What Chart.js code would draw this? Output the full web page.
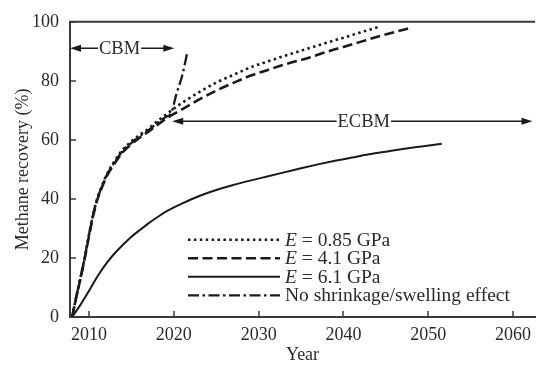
<!DOCTYPE html>
<html><head><meta charset="utf-8">
<script src="https://cdn.jsdelivr.net/npm/chart.js@4.4.1/dist/chart.umd.min.js"></script>
<style>html,body{margin:0;padding:0;background:#fff;}canvas{display:block;}</style>
</head><body>
<canvas id="c" width="538" height="366" style="width:538px;height:366px"></canvas>
<script>
// ---- data ----
const yearsE085 = [2008,2008.5,2009,2009.5,2010,2010.5,2011,2011.5,2012,2013,2014,2015,2016,2017,2018,2019,2020,2021,2023,2025,2027,2029,2031,2033,2036,2038,2040,2042,2044.2];
const recE085   = [0,7,13.5,20.3,28,35,40.5,44.3,47.8,52.8,56.8,59.5,61.8,63.8,66.2,68.4,70.6,72.6,76.2,79.4,82,84.5,86.5,88.4,91.1,92.9,94.6,96.4,98.3];

const yearsE41 = [2008,2008.5,2009,2009.5,2010,2010.5,2011,2011.5,2012,2013,2014,2015,2016,2017,2018,2019,2020,2021,2023,2025,2027,2029,2031,2033,2036,2038,2040,2042,2044,2046,2048];
const recE41   = [0,6.8,13.2,20,27.6,34.5,40,43.8,47.2,52,55.9,58.6,60.8,62.8,65,67,68.8,70.4,73.7,76.7,79.3,81.7,83.6,85.5,87.9,89.8,91.5,93.2,94.9,96.5,98];

const yearsE61 = [2008,2009,2010,2011,2012,2013,2014,2015,2016,2017,2018,2019,2020,2021,2022,2023,2025,2027,2029,2031,2033,2035,2037,2039,2041,2043,2045,2047,2049,2051.6];
const recE61   = [0,4.2,8.9,13.8,18,21.5,24.5,27.2,29.5,31.7,33.7,35.6,37.1,38.5,39.8,41,43,44.7,46.2,47.6,49,50.4,51.7,52.9,54,55.1,56,56.9,57.7,58.7];

const yearsNoSw = [2008,2008.5,2009,2009.5,2010,2010.5,2011,2011.5,2012,2013,2014,2015,2016,2017,2018,2019,2019.7,2020.3,2021,2021.6];
const recNoSw   = [0,7,13.5,20.3,28,35,40.3,44,47.5,52.4,56.4,59,61.3,63.3,65.6,67.7,69.2,75.5,82,89.8];

const seriesLabels = ['E = 0.85 GPa','E = 4.1 GPa','E = 6.1 GPa','No shrinkage/swelling effect'];
const xTickValues = [2010,2020,2030,2040,2050,2060];
const yTickValues = [0,20,40,60,80,100];

const phaseNames = ['CBM','ECBM'];
const phaseFrom  = [2007.75, 2019.8];
const phaseTo    = [2020.05, 2062.3];
const phaseLevel = [91, 66.3];
const phaseTextAt = [2013.6, 2042.4];

// ---- chart ----
const FONT = '"Liberation Serif","Times New Roman",serif';
const INK = '#1a1a1a';
const AXIS = '#3a3a3a';
const pts = (xs, ys) => xs.map((x,i)=>({x, y: ys[i]}));
const styles = [
  {dash:[2.5,3.4], w:2.6},
  {dash:[10,4.5], w:2.6},
  {dash:[], w:2},
  {dash:[11,3.5,2.5,3.5], w:2.3}
];
const seriesData = [pts(yearsE085,recE085), pts(yearsE41,recE41), pts(yearsE61,recE61), pts(yearsNoSw,recNoSw)];

const decor = {
  id:'decor',
  afterDraw(chart){
    const ctx = chart.ctx, a = chart.chartArea, xs = chart.scales.x, ys = chart.scales.y;
    ctx.save();
    // top frame line
    ctx.strokeStyle = AXIS; ctx.lineWidth = 2;
    ctx.beginPath(); ctx.moveTo(a.left-1, a.top); ctx.lineTo(a.right, a.top); ctx.stroke();
    // inward ticks
    ctx.lineWidth = 1.5;
    xTickValues.forEach(v=>{ const px = Math.round(xs.getPixelForValue(v));
      ctx.beginPath(); ctx.moveTo(px, a.bottom); ctx.lineTo(px, a.bottom-6); ctx.stroke(); });
    yTickValues.forEach(v=>{ const py = Math.round(ys.getPixelForValue(v));
      ctx.beginPath(); ctx.moveTo(a.left, py); ctx.lineTo(a.left+6, py); ctx.stroke(); });
    // phase arrows
    ctx.font = '18.5px ' + FONT; ctx.textBaseline = 'middle'; ctx.textAlign = 'center';
    ctx.strokeStyle = INK; ctx.fillStyle = '#2a2a2a'; ctx.lineWidth = 1.5;
    phaseNames.forEach((name,i)=>{
      const x0 = xs.getPixelForValue(phaseFrom[i]), x1 = xs.getPixelForValue(phaseTo[i]);
      const y = ys.getPixelForValue(phaseLevel[i]), xc = xs.getPixelForValue(phaseTextAt[i]);
      const tw = ctx.measureText(name).width;
      ctx.beginPath(); ctx.moveTo(x0+4, y); ctx.lineTo(xc - tw/2 - 1, y);
      ctx.moveTo(xc + tw/2 + 1, y); ctx.lineTo(x1-4, y); ctx.stroke();
      ctx.fillStyle = INK;
      ctx.beginPath(); ctx.moveTo(x0, y); ctx.lineTo(x0+11, y-3.5); ctx.lineTo(x0+11, y+3.5); ctx.closePath(); ctx.fill();
      ctx.beginPath(); ctx.moveTo(x1, y); ctx.lineTo(x1-11, y-3.5); ctx.lineTo(x1-11, y+3.5); ctx.closePath(); ctx.fill();
      ctx.fillStyle = '#2a2a2a';
      ctx.fillText(name, xc, y+1);
    });
    // legend
    const lx0 = a.left + 118, lx1 = a.left + 210, tx = a.left + 215;
    ctx.textAlign = 'left'; ctx.fillStyle = '#2a2a2a';
    const LF = '19.5px ' + FONT;
    seriesLabels.forEach((lab,i)=>{
      const y = a.top + 218 + i*18.5;
      const st = styles[i];
      ctx.setLineDash(st.dash); ctx.lineWidth = st.w; ctx.strokeStyle = INK;
      ctx.beginPath(); ctx.moveTo(lx0, y); ctx.lineTo(lx1, y); ctx.stroke();
      ctx.setLineDash([]);
      let x = tx;
      if (lab.startsWith('E ')) {
        ctx.font = 'italic ' + LF; ctx.fillText('E', x, y+1);
        x += ctx.measureText('E').width;
        ctx.font = LF; ctx.fillText(lab.slice(1), x, y+1);
      } else {
        ctx.font = LF; ctx.fillText(lab, x, y+1);
      }
    });
    ctx.restore();
  }
};

new Chart(document.getElementById('c'), {
  type:'line',
  data:{ datasets: seriesData.map((d,i)=>({
    label: seriesLabels[i], data: d, borderColor: INK, borderWidth: styles[i].w,
    borderDash: styles[i].dash, pointRadius: 0, fill:false,
    cubicInterpolationMode:'monotone'
  }))},
  options:{
    responsive:false, animation:false, devicePixelRatio:1,
    layout:{padding:{top:17,left:0,right:0,bottom:0}},
    plugins:{legend:{display:false}, tooltip:{enabled:false}},
    scales:{
      x:{ type:'linear', min:2007.75, max:2062.6,
        afterBuildTicks(s){ s.ticks = xTickValues.map(v=>({value:v})); },
        afterFit(s){ s.height = 49; },
        grid:{display:false, drawTicks:false},
        border:{display:true, color:AXIS, width:2},
        ticks:{ font:{family:FONT,size:18}, color:'#2a2a2a', padding:7, maxRotation:0, autoSkip:false,
          callback:v=>String(v) },
        title:{display:true, text:'Year', font:{family:FONT,size:18}, color:'#2a2a2a', padding:{top:0,bottom:0}}
      },
      y:{ min:0, max:100,
        afterBuildTicks(s){ s.ticks = yTickValues.map(v=>({value:v})); },
        afterFit(s){ s.width = 70; },
        grid:{display:false, drawTicks:false},
        border:{display:true, color:AXIS, width:2},
        ticks:{ font:{family:FONT,size:18}, color:'#2a2a2a', padding:11 },
        title:{display:true, text:'Methane recovery (%)', font:{family:FONT,size:18}, color:'#2a2a2a', padding:{top:12,bottom:0}}
      }
    }
  },
  plugins:[decor]
});
</script>
</body></html>
